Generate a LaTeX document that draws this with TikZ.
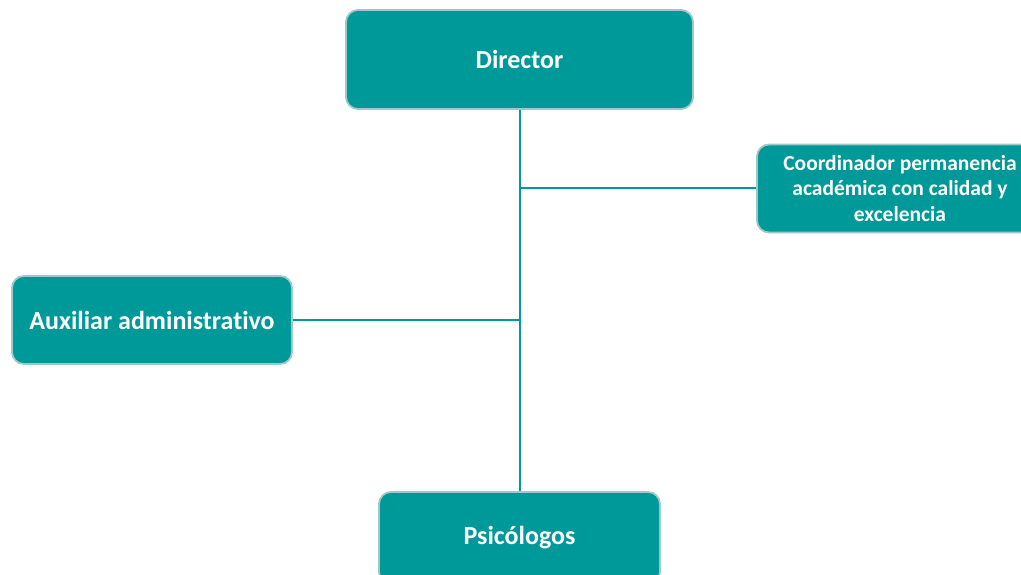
\documentclass[tikz,border=0pt]{standalone}
\usepackage{fontspec}
\setmainfont{Carlito}[Ligatures=NoCommon]
\definecolor{teal0}{RGB}{0,153,153}
\definecolor{boxedge}{RGB}{160,200,200}
\begin{document}
\begin{tikzpicture}[x=1pt,y=-1pt,
  box/.style={draw=boxedge, line width=1.8pt, fill=teal0, rounded corners=12pt,
    text=white, font=\bfseries\fontsize{26}{30}\selectfont, align=center, inner sep=0pt},
  smallbox/.style={box, font=\bfseries\fontsize{21.5}{25.5}\selectfont},
  link/.style={draw=teal0, line width=2pt}]
\useasboundingbox (0,0) rectangle (1021,575);
\node[box, minimum width=347pt, minimum height=99pt] (dir) at (519.5,59.5) {Director};
\node[smallbox, minimum width=286pt, minimum height=88pt] (coord) at (900,188.5)
  {Coordinador permanencia\\académica con calidad y\\excelencia};
\node[box, minimum width=280pt, minimum height=88pt] (aux) at (152,320) {Auxiliar administrativo};
\node[box, minimum width=281pt, minimum height=92pt] (psi) at (519.5,538) {Psicólogos};
\coordinate (j1) at (dir.south |- coord.west);
\coordinate (j2) at (dir.south |- aux.east);
\draw[link] (dir.south) -- (psi.north);
\draw[link] (j1) -- (coord.west);
\draw[link] (aux.east) -- (j2);
\end{tikzpicture}
\end{document}
